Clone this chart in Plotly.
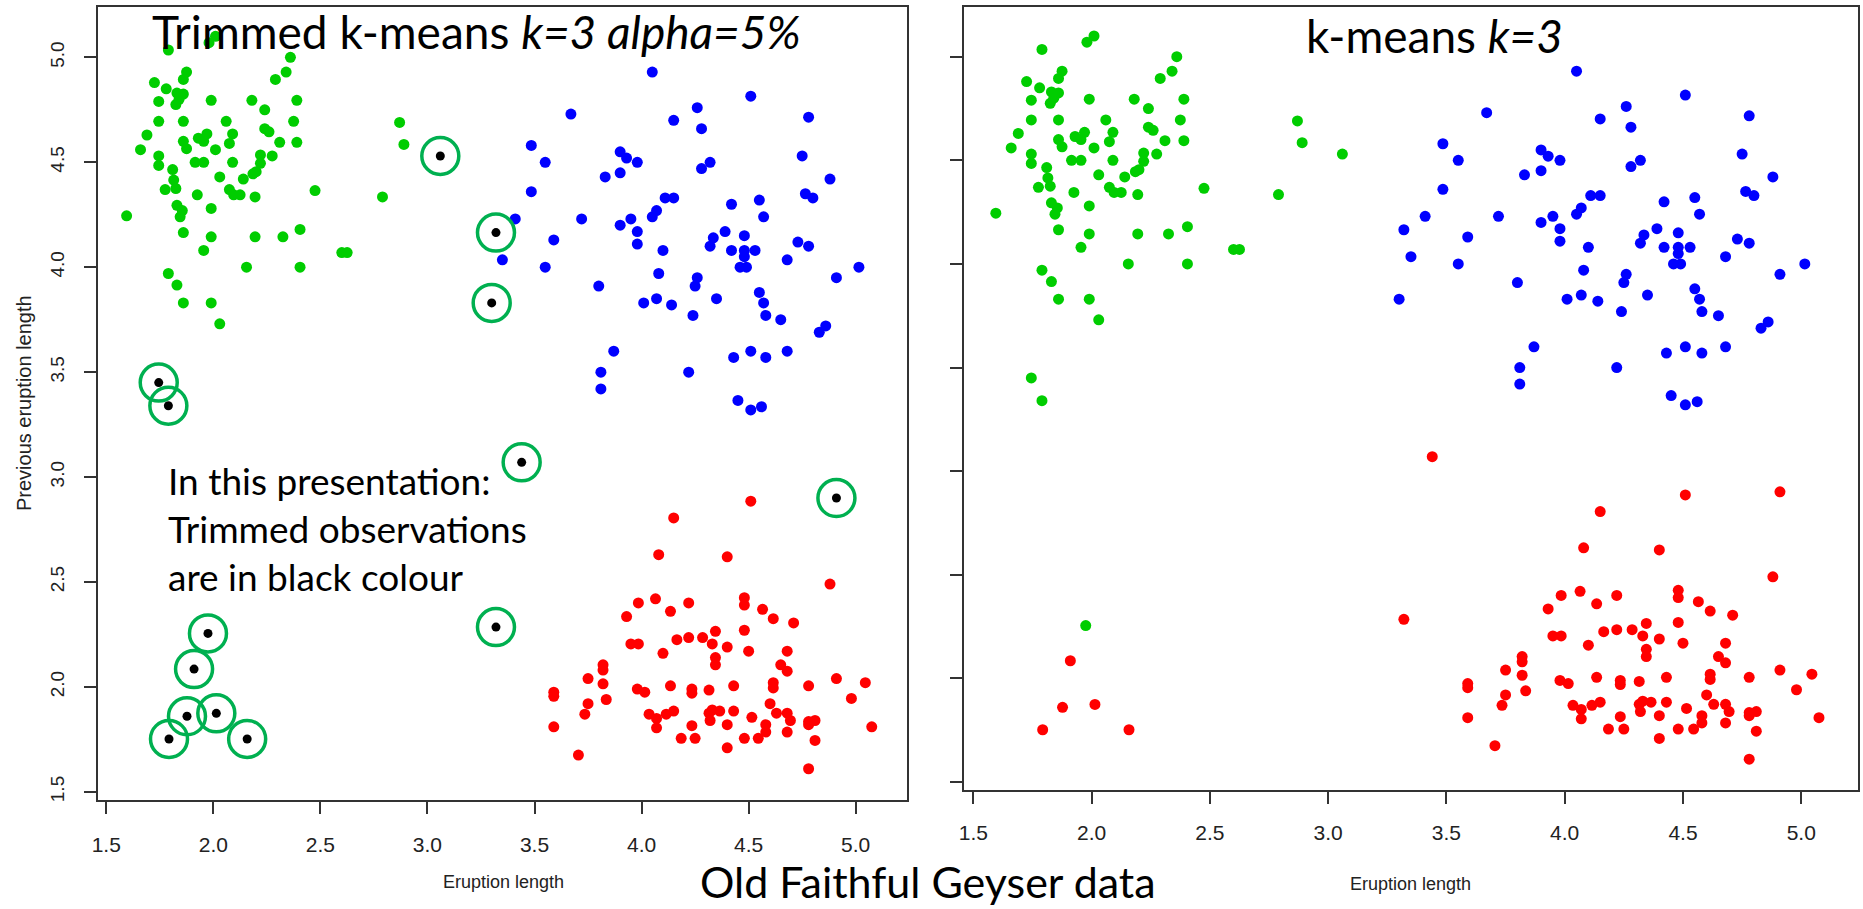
import plotly.graph_objects as go

# Old Faithful geyser: eruption length (x) against previous eruption length (y)

# cluster 1 (green)
green_x = [2.01, 1.98, 1.79, 2.36, 2.34, 2.29, 1.875, 1.86, 1.725, 1.78, 1.83, 1.86, 1.84, 1.825,
           1.745, 1.99, 2.18, 2.39, 2.24, 1.745, 1.86, 2.06, 2.375, 2.24, 2.26, 1.69, 1.93, 1.97,
           1.955, 2.09, 2.075, 2.31, 2.39, 1.66, 1.86, 1.875, 2.01, 1.745, 1.745, 1.915, 1.955,
           2.09, 2.22, 2.22, 2.275, 2.20, 2.185, 1.81, 1.815, 1.825, 1.775, 2.03, 2.14, 1.925,
           2.075, 2.095, 2.125, 2.195, 2.475, 2.79, 1.595, 1.83, 1.855, 1.845, 1.99, 1.86, 1.99,
           2.195, 2.325, 2.405, 1.955, 2.60, 2.625, 2.155, 2.405, 1.79, 1.83, 1.86, 1.99, 2.03,
           2.87, 2.89]
green_y = [5.10, 5.07, 5.035, 5.00, 4.93, 4.895, 4.93, 4.895, 4.88, 4.85, 4.83, 4.825, 4.80, 4.775,
           4.79, 4.795, 4.795, 4.795, 4.75, 4.695, 4.695, 4.695, 4.695, 4.66, 4.645, 4.63, 4.615,
           4.635, 4.60, 4.635, 4.59, 4.595, 4.595, 4.56, 4.60, 4.565, 4.56, 4.53, 4.485, 4.50, 4.50,
           4.50, 4.535, 4.495, 4.53, 4.455, 4.445, 4.465, 4.415, 4.375, 4.37, 4.43, 4.42, 4.345,
           4.37, 4.345, 4.345, 4.335, 4.365, 4.335, 4.245, 4.295, 4.27, 4.24, 4.28, 4.165, 4.145,
           4.145, 4.145, 4.18, 4.08, 4.07, 4.07, 4.00, 4.00, 3.97, 3.915, 3.83, 3.83, 3.73,
           4.69, 4.585]

# cluster 2 (blue)
blue_x = [4.05, 3.67, 4.15, 4.26, 3.485, 3.55, 3.90, 3.93, 3.98, 3.90, 3.83, 3.485, 4.11, 4.15,
          4.07, 4.05, 3.41, 3.72, 3.90, 3.95, 3.98, 3.98, 4.10, 3.59, 3.35, 3.55, 4.08, 3.80, 4.01,
          4.07, 4.14, 4.24, 4.26, 3.87,
          4.51, 4.28, 4.78, 4.75, 4.32, 4.28, 4.88, 4.765, 4.80, 4.42, 4.55, 4.57, 4.39, 4.335,
          4.32, 4.48, 4.42, 4.48, 4.53, 4.48, 4.46, 4.49, 4.73, 4.78, 4.68, 5.015, 4.91, 4.25,
          4.35, 4.55, 4.57, 4.58, 4.65, 4.86, 4.83, 4.43, 4.51, 4.58, 4.68,
          3.81, 3.81, 4.22, 4.45, 4.51, 4.56]
blue_y = [4.93, 4.73, 4.70, 4.76, 4.58, 4.50, 4.55, 4.52, 4.50, 4.45, 4.43, 4.36, 4.33, 4.33,
          4.27, 4.24, 4.23, 4.23, 4.20, 4.23, 4.17, 4.11, 4.08, 4.13, 4.035, 4.00, 3.97, 3.91, 3.83,
          3.85, 3.82, 3.77, 3.95, 3.60,
          4.815, 4.66, 4.715, 4.53, 4.50, 4.47, 4.42, 4.35, 4.33, 4.30, 4.32, 4.24, 4.17, 4.14,
          4.10, 4.15, 4.08, 4.08, 4.08, 4.05, 4.00, 4.00, 4.12, 4.10, 4.035, 4.00, 3.95, 3.91,
          3.85, 3.88, 3.83, 3.77, 3.75, 3.72, 3.69, 3.57, 3.60, 3.57, 3.60,
          3.50, 3.42, 3.50, 3.365, 3.32, 3.335]

# cluster 3 (red)
red_x = [4.15, 4.08, 3.985, 4.065, 4.22, 3.93, 4.135, 3.95, 3.985, 4.10, 4.165, 4.22, 4.285, 3.82,
         3.82, 3.75, 3.82, 3.59, 3.59, 3.98, 4.015, 4.135, 4.235, 4.235, 3.835, 3.75, 3.735, 3.59,
         4.035, 4.07, 4.07, 4.115, 4.15, 4.235, 4.25, 4.185, 3.705,
         4.51, 4.40, 4.88, 4.48, 4.48, 4.565, 4.615, 4.71, 4.48, 4.345, 4.33, 4.40, 4.50, 4.68,
         4.345, 4.345, 4.65, 4.68, 4.91, 5.045, 4.98, 4.43, 4.615, 4.615, 4.78, 4.315, 4.60,
         4.315, 4.33, 4.365, 4.32, 4.43, 4.63, 4.68, 4.695, 4.78, 4.78, 4.81, 4.40, 4.515, 4.58,
         4.58, 4.68, 4.48, 4.545, 4.40, 4.81, 5.075, 4.78]
red_y = [2.805, 2.63, 2.40, 2.42, 2.40, 2.335, 2.36, 2.205, 2.205, 2.16, 2.225, 2.235, 2.235, 2.105,
         2.08, 2.04, 2.015, 1.975, 1.955, 1.99, 1.975, 2.005, 1.99, 1.97, 1.94, 1.92, 1.87, 1.81,
         1.87, 1.85, 1.805, 1.87, 1.885, 1.815, 1.755, 1.755, 1.675,
         2.885, 2.62, 2.49, 2.425, 2.39, 2.37, 2.325, 2.305, 2.27, 2.265, 2.205, 2.19, 2.17, 2.17,
         2.14, 2.105, 2.105, 2.075, 2.04, 2.02, 1.945, 2.005, 2.02, 1.995, 2.005, 1.985, 1.92,
         1.875, 1.89, 1.885, 1.84, 1.885, 1.875, 1.875, 1.84, 1.835, 1.82, 1.84, 1.82, 1.855, 1.82,
         1.785, 1.785, 1.755, 1.755, 1.71, 1.745, 1.81, 1.61]

# trimmed observations (alpha = 5%) and the cluster plain k-means gives them
trim_x = [3.06, 3.32, 3.30, 1.745, 1.79, 3.44, 4.91, 3.32, 1.975, 1.91, 1.877, 2.014, 1.793, 2.158]
trim_y = [4.53, 4.165, 3.83, 3.45, 3.34, 3.07, 2.90, 2.285, 2.255, 2.085, 1.86, 1.874, 1.752, 1.752]
trim_kmeans = ["green", "blue", "blue", "green", "green", "red", "red", "red",
               "green", "red", "red", "red", "red", "red"]

ticks = [1.5, 2.0, 2.5, 3.0, 3.5, 4.0, 4.5, 5.0]
tick_text = ["1.5", "2.0", "2.5", "3.0", "3.5", "4.0", "4.5", "5.0"]

COL = {"green": "#00CD00", "blue": "#0000FF", "red": "#FF0000"}
RING = "#00B050"
W, H = 1863, 909
SANS = "Liberation Sans, Arial, sans-serif"
SLIDE = "Lato, Calibri, sans-serif"


def px(x):
    return x / W


def py(y):
    return 1 - y / H


fig = go.Figure()


def dots(x, y, color, xa, ya, size=11):
    fig.add_trace(go.Scatter(x=x, y=y, mode="markers", xaxis=xa, yaxis=ya,
                             marker=dict(color=color, size=size, line=dict(width=0)),
                             showlegend=False, hoverinfo="x+y"))


# trimmed k-means panel
dots(green_x, green_y, COL["green"], "x", "y")
dots(blue_x, blue_y, COL["blue"], "x", "y")
dots(red_x, red_y, COL["red"], "x", "y")
dots(trim_x, trim_y, "#000000", "x", "y", size=9)
fig.add_trace(go.Scatter(x=trim_x, y=trim_y, mode="markers", xaxis="x", yaxis="y",
                         marker=dict(symbol="circle-open", size=37, color=RING,
                                     line=dict(width=3.5, color=RING)),
                         showlegend=False, hoverinfo="skip"))

# plain k-means panel: trimmed points go back to their nearest cluster
for name, gx, gy in (("green", green_x, green_y), ("blue", blue_x, blue_y), ("red", red_x, red_y)):
    ex = [x for x, k in zip(trim_x, trim_kmeans) if k == name]
    ey = [y for y, k in zip(trim_y, trim_kmeans) if k == name]
    dots(gx + ex, gy + ey, COL[name], "x2", "y2")

axis_common = dict(range=[1.46, 5.24], tickvals=ticks, ticktext=tick_text, ticks="outside",
                   ticklen=12, tickwidth=1.5, tickcolor="#333333", showline=True, mirror=True,
                   linecolor="#333333", linewidth=1.6, showgrid=False, zeroline=False)

xtickfont = dict(family=SANS, size=21, color="#222222")
fig.update_layout(
    width=W, height=H, margin=dict(l=0, r=0, t=0, b=0),
    paper_bgcolor="white", plot_bgcolor="white",
    xaxis=dict(domain=[px(92), px(904)], anchor="y", tickfont=xtickfont,
               ticklabelstandoff=13, **axis_common),
    yaxis=dict(domain=[py(802), py(7)], anchor="x", tickangle=-90, ticklabelstandoff=12,
               tickfont=dict(family=SANS, size=19, color="#222222"), **axis_common),
    xaxis2=dict(domain=[px(961), px(1858)], anchor="y2", tickfont=xtickfont,
                ticklabelstandoff=11, **axis_common),
    yaxis2=dict(domain=[py(792), py(7)], anchor="x2", showticklabels=False, **axis_common),
)

ann = []


def text(x, y, s, size, family, **kw):
    color = kw.pop("color", "#000000")
    opts = dict(xanchor="center", yanchor="middle")
    opts.update(kw)
    ann.append(dict(x=px(x), y=py(y), xref="paper", yref="paper", text=s, showarrow=False,
                    font=dict(family=family, size=size, color=color), **opts))


text(472, 32, "Trimmed k-means <i>k=3 alpha=5%</i>", 46, SLIDE)
text(1433, 36, "k-means <i>k=3</i>", 46, SLIDE)
text(925, 883, "Old Faithful Geyser data", 43, SLIDE)
text(161, 530, "In this presentation:<br>Trimmed observations<br>are in black colour", 37, SLIDE,
     xanchor="left", align="left")
text(499, 884, "Eruption length", 18, SANS, color="#222222")
text(1409, 886, "Eruption length", 18, SANS, color="#222222")
text(18, 404, "Previous eruption length", 20, SANS, textangle=-90, color="#222222")

fig.update_layout(annotations=ann)
fig.write_html("out.html")
